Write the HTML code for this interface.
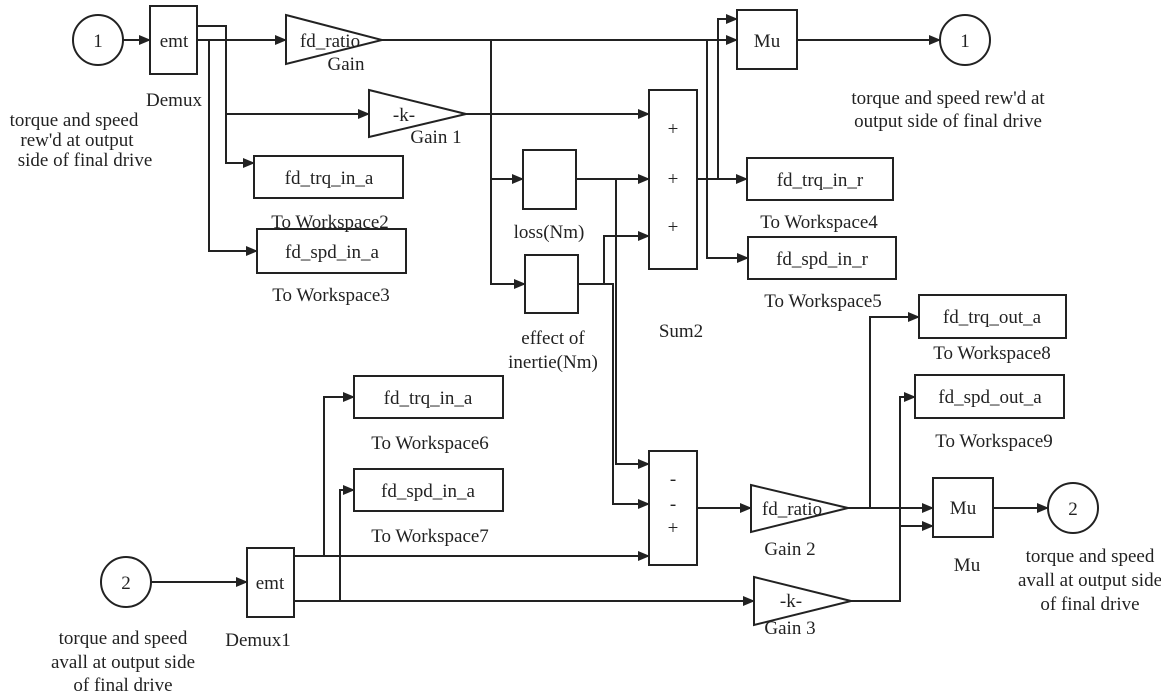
<!DOCTYPE html>
<html><head><meta charset="utf-8"><style>
html,body{margin:0;padding:0;background:#fff}
svg{display:block}
text{font-family:"Liberation Serif",serif;font-size:19px;fill:#222}
</style></head><body>
<svg width="1161" height="693" viewBox="0 0 1161 693" xmlns="http://www.w3.org/2000/svg">
<defs><marker id="a" markerWidth="12" markerHeight="12" refX="11" refY="6" orient="auto" markerUnits="userSpaceOnUse"><path d="M0,1 L12,6 L0,11 z" fill="#222"/></marker></defs>
<g fill="none" stroke="#222" stroke-width="2">
<circle cx="98" cy="40" r="25"/>
<rect x="150" y="6" width="47" height="68"/>
<polygon points="286,15 382,40 286,64"/>
<polygon points="369,90 466,114 369,137"/>
<rect x="254" y="156" width="149" height="42"/>
<rect x="257" y="229" width="149" height="44"/>
<rect x="523" y="150" width="53" height="59"/>
<rect x="525" y="255" width="53" height="58"/>
<rect x="649" y="90" width="48" height="179"/>
<rect x="737" y="10" width="60" height="59"/>
<circle cx="965" cy="40" r="25"/>
<rect x="747" y="158" width="146" height="42"/>
<rect x="748" y="237" width="148" height="42"/>
<rect x="919" y="295" width="147" height="43"/>
<rect x="915" y="375" width="149" height="43"/>
<rect x="649" y="451" width="48" height="114"/>
<polygon points="751,485 848,508 751,532"/>
<polygon points="754,577 851,601 754,625"/>
<rect x="933" y="478" width="60" height="59"/>
<circle cx="1073" cy="508" r="25"/>
<rect x="354" y="376" width="149" height="42"/>
<rect x="354" y="469" width="149" height="42"/>
<rect x="247" y="548" width="47" height="69"/>
<circle cx="126" cy="582" r="25"/>
<path d="M123,40 H150" marker-end="url(#a)"/>
<path d="M197,40 H286" marker-end="url(#a)"/>
<path d="M197,26 H226 V163 H254" marker-end="url(#a)"/>
<path d="M226,114 H369" marker-end="url(#a)"/>
<path d="M209,40 V251 H257" marker-end="url(#a)"/>
<path d="M382,40 H737" marker-end="url(#a)"/>
<path d="M466,114 H649" marker-end="url(#a)"/>
<path d="M491,40 V179 H523" marker-end="url(#a)"/>
<path d="M491,179 V284 H525" marker-end="url(#a)"/>
<path d="M576,179 H649" marker-end="url(#a)"/>
<path d="M578,284 H604 V236 H649" marker-end="url(#a)"/>
<path d="M604,284 H613 V504 H649" marker-end="url(#a)"/>
<path d="M616,179 V464 H649" marker-end="url(#a)"/>
<path d="M697,179 H747" marker-end="url(#a)"/>
<path d="M718,179 V19 H737" marker-end="url(#a)"/>
<path d="M707,40 V258 H748" marker-end="url(#a)"/>
<path d="M797,40 H940" marker-end="url(#a)"/>
<path d="M151,582 H247" marker-end="url(#a)"/>
<path d="M294,556 H649" marker-end="url(#a)"/>
<path d="M324,556 V397 H354" marker-end="url(#a)"/>
<path d="M294,601 H754" marker-end="url(#a)"/>
<path d="M340,601 V490 H354" marker-end="url(#a)"/>
<path d="M697,508 H751" marker-end="url(#a)"/>
<path d="M848,508 H933" marker-end="url(#a)"/>
<path d="M870,508 V317 H919" marker-end="url(#a)"/>
<path d="M851,601 H900 V397 H915" marker-end="url(#a)"/>
<path d="M900,526 H933" marker-end="url(#a)"/>
<path d="M993,508 H1048" marker-end="url(#a)"/>
</g>
<g text-anchor="middle">
<text x="98" y="47">1</text>
<text x="174" y="47">emt</text>
<text x="174" y="106">Demux</text>
<text x="74" y="126">torque and speed</text>
<text x="77" y="146">rew'd at output</text>
<text x="85" y="166">side of final drive</text>
<text x="330" y="47">fd_ratio</text>
<text x="346" y="70">Gain</text>
<text x="404" y="121">-k-</text>
<text x="436" y="143">Gain 1</text>
<text x="329" y="184">fd_trq_in_a</text>
<text x="330" y="228">To Workspace2</text>
<text x="332" y="258">fd_spd_in_a</text>
<text x="331" y="301">To Workspace3</text>
<text x="549" y="238">loss(Nm)</text>
<text x="553" y="344">effect of</text>
<text x="553" y="368">inertie(Nm)</text>
<text x="673" y="135">+</text>
<text x="673" y="185">+</text>
<text x="673" y="233">+</text>
<text x="681" y="337">Sum2</text>
<text x="767" y="47">Mu</text>
<text x="965" y="47">1</text>
<text x="948" y="104">torque and speed rew'd at</text>
<text x="948" y="127">output side of final drive</text>
<text x="820" y="186">fd_trq_in_r</text>
<text x="819" y="228">To Workspace4</text>
<text x="822" y="265">fd_spd_in_r</text>
<text x="823" y="307">To Workspace5</text>
<text x="992" y="323">fd_trq_out_a</text>
<text x="992" y="359">To Workspace8</text>
<text x="990" y="403">fd_spd_out_a</text>
<text x="994" y="447">To Workspace9</text>
<text x="673" y="485">-</text>
<text x="673" y="510">-</text>
<text x="673" y="534">+</text>
<text x="792" y="515">fd_ratio</text>
<text x="790" y="555">Gain 2</text>
<text x="791" y="607">-k-</text>
<text x="790" y="634">Gain 3</text>
<text x="963" y="514">Mu</text>
<text x="967" y="571">Mu</text>
<text x="1073" y="515">2</text>
<text x="1090" y="562">torque and speed</text>
<text x="1090" y="586">avall at output side</text>
<text x="1090" y="610">of final drive</text>
<text x="428" y="404">fd_trq_in_a</text>
<text x="430" y="449">To Workspace6</text>
<text x="428" y="497">fd_spd_in_a</text>
<text x="430" y="542">To Workspace7</text>
<text x="270" y="589">emt</text>
<text x="258" y="646">Demux1</text>
<text x="126" y="589">2</text>
<text x="123" y="644">torque and speed</text>
<text x="123" y="668">avall at output side</text>
<text x="123" y="691">of final drive</text>
</g>
</svg>
</body></html>
